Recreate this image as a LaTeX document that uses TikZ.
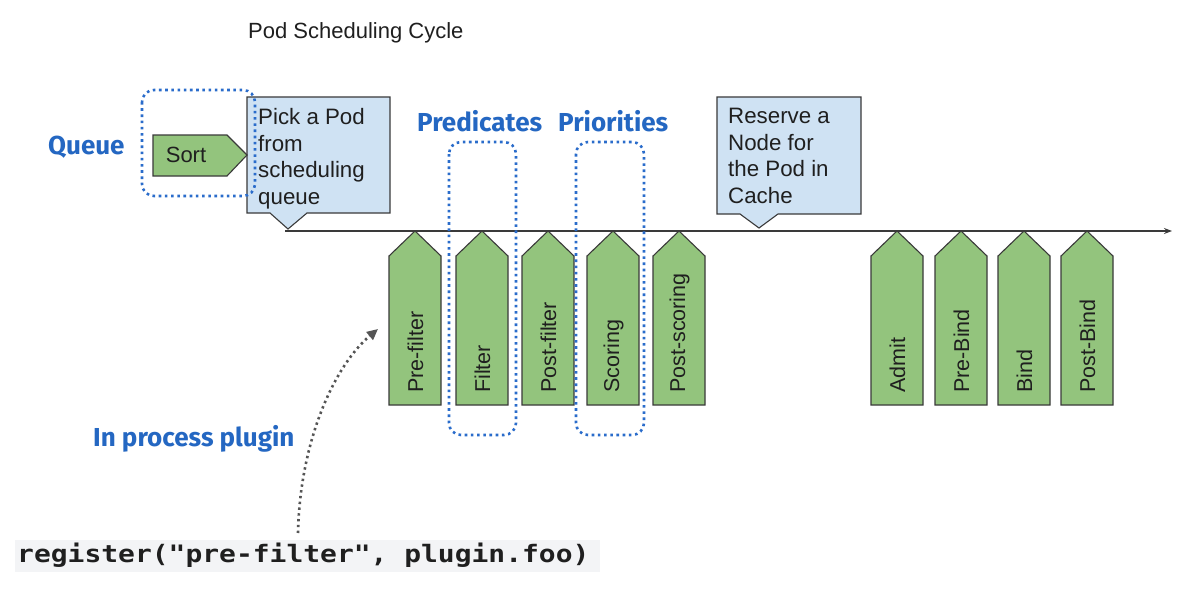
\documentclass[tikz,border=0pt]{standalone}
\usepackage{fontspec}
\setmainfont{Liberation Sans}
\newfontfamily\labfont{Fira Sans}
\newfontfamily\codefont{DejaVu Sans Mono}
\usetikzlibrary{arrows.meta}
\definecolor{stepgreen}{HTML}{93C47D}
\definecolor{callblue}{HTML}{CFE2F3}
\definecolor{labblue}{HTML}{2467C2}
\definecolor{dotblue}{HTML}{2A6CCB}
\definecolor{edgegray}{HTML}{3A3A3A}
\definecolor{codebg}{HTML}{F3F4F6}
\definecolor{arrgray}{HTML}{555555}
\begin{document}
\begin{tikzpicture}[x=1pt,y=-1pt,
  stage/.style={fill=stepgreen,draw=edgegray,line width=1.1pt,line join=miter},
  callout/.style={fill=callblue,draw=edgegray,line width=1.1pt},
  stagetext/.style={rotate=90,anchor=west,inner sep=0pt,font=\fontsize{21.5}{25}\selectfont,text=black!88},
  calltext/.style={anchor=north west,inner sep=0pt,align=left,font=\fontsize{22.3}{26.7}\selectfont,text=black!88},
  bluelabel/.style={font=\labfont\bfseries\fontsize{26}{30}\selectfont,text=labblue,inner sep=0pt,anchor=west},
  dotbox/.style={draw=dotblue,line width=2.6pt,dash pattern=on 2.6pt off 3.6pt,rounded corners=12pt}
]
\useasboundingbox (0,0) rectangle (1200,610);
\fill[white] (0,0) rectangle (1200,610);

% title
\node[anchor=west,inner sep=0pt,font=\fontsize{22}{26}\selectfont,text=black!88] (title) at (248,33) {Pod Scheduling Cycle};

% timeline
\coordinate (tlstart) at (285,231);
\coordinate (tlend) at (1172,231);
\draw[draw=edgegray,line width=1.3pt,-{Stealth[length=8pt,width=6pt]}] (tlstart) -- (tlend);

% callouts
\path[callout] (247,97) -- (390,97) -- (390,213) -- (307,213) -- (288,229) -- (270,213) -- (247,213) -- cycle;
\node[calltext] (picktext) at (258,108) {Pick a Pod\\from\\scheduling\\queue};
\path[callout] (717,97) -- (861,97) -- (861,214) -- (778,214) -- (759,228) -- (740,214) -- (717,214) -- cycle;
\node[calltext] (reservetext) at (728,108) {Reserve a\\Node for\\the Pod in\\Cache};

% sort
\path[stage] (153,135) -- (227,135) -- (247,155) -- (227,176) -- (153,176) -- cycle;
\node[inner sep=0pt,font=\fontsize{22}{25}\selectfont,text=black!88] (sort) at (186,155) {Sort};

% stages
\foreach \x/\lab/\nm in {389/Pre-filter/prefilter,456/Filter/filter,522/Post-filter/postfilter,587/Scoring/scoring,653/Post-scoring/postscoring,871/Admit/admit,935/Pre-Bind/prebind,998/Bind/bind,1061/Post-Bind/postbind}{
  \path[stage] (\x,405) -- (\x,256) -- (\x+26,231) -- (\x+52,256) -- (\x+52,405) -- cycle;
  \node[stagetext] (\nm) at (\x+26.5,393) {\lab};
}

% blue labels
\node[bluelabel] (queue) at (48,147) {Queue};
\node[bluelabel] (predicates) at (417,121) {Predicates};
\node[bluelabel] (priorities) at (558,121) {Priorities};
\node[bluelabel] (inproc) at (93,439) {In process plugin};

% code
\fill[codebg] (15,540) rectangle (600,572);
\node[anchor=west,inner sep=0pt,font=\codefont\bfseries\fontsize{24}{28}\selectfont,text=black!88] (code) at (17,555) {\scalebox{1.165}[1]{register("pre-filter", plugin.foo)}};

% curved dotted arrow
\coordinate (codetop) at (298,533);
\coordinate (arrtip) at (378,329);
\draw[draw=arrgray,line width=2.6pt,dash pattern=on 2.4pt off 3.4pt,-{Triangle[length=11pt,width=10pt]}] (codetop) .. controls (300,440) and (335,365) .. (arrtip);

% dotted boxes
\draw[dotbox] (142,90) rectangle (255,196);
\draw[dotbox] (449,142) rectangle (516,435);
\draw[dotbox] (576,142) rectangle (644,435);
\end{tikzpicture}
\end{document}
